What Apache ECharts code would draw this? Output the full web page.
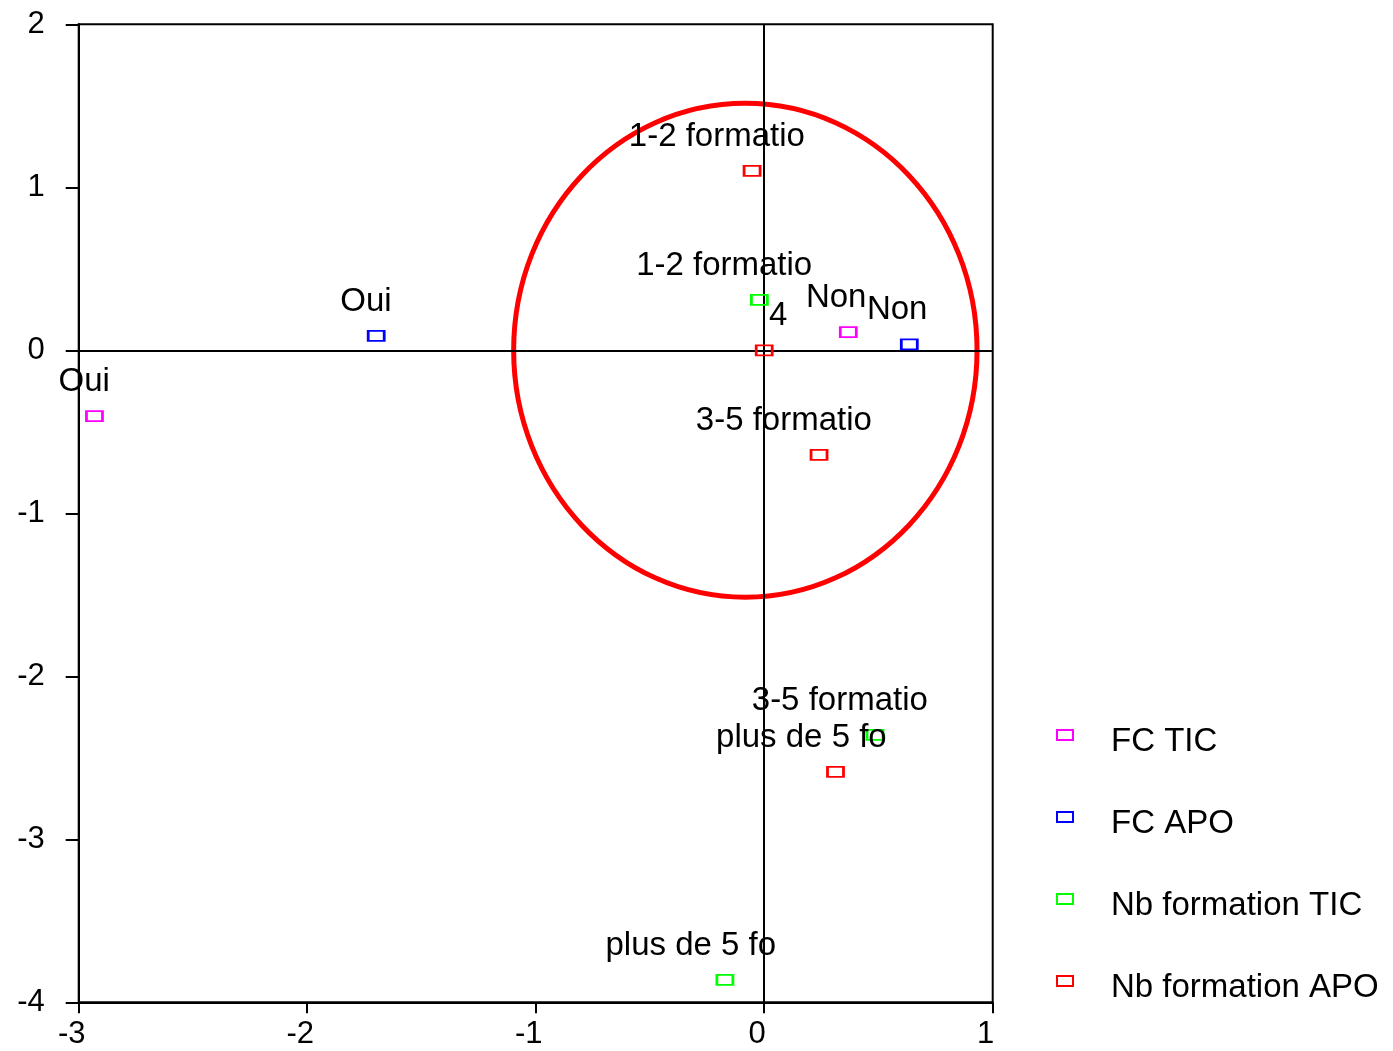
<!DOCTYPE html>
<html>
<head>
<meta charset="utf-8">
<script src="https://cdn.jsdelivr.net/npm/echarts@6/dist/echarts.min.js"></script>
<style>
html,body{margin:0;padding:0;background:#fff;}
#chart{width:1393px;height:1051px;}
</style>
</head>
<body>
<div id="chart"></div>
<script>
// ---- data ----
const fcTicNames = ['Oui', 'Non'];
const fcTicX = [-2.931, 0.368];
const fcTicY = [-0.404, 0.111];

const fcApoNames = ['Oui', 'Non'];
const fcApoX = [-1.698, 0.635];
const fcApoY = [0.089, 0.037];

const nbTicNames = ['1-2 formatio', '3-5 formatio', 'plus de 5 fo'];
const nbTicX = [-0.021, 0.485, -0.172];
const nbTicY = [0.309, -2.359, -3.863];

const nbApoNames = ['1-2 formatio', '4', '3-5 formatio', 'plus de 5 fo'];
const nbApoX = [-0.053, 0.0, 0.240, 0.312];
const nbApoY = [1.101, 0.0, -0.642, -2.586];

const seriesNames = ['FC TIC', 'FC APO', 'Nb formation TIC', 'Nb formation APO'];
const seriesColors = ['#ff00ff', '#0000ff', '#00ff00', '#ff0000'];

const ellipseCenter = [-0.0825, 0.0];
const ellipseRadii = [1.014, 1.515];

const xTicks = [-3, -2, -1, 0, 1];
const yTicks = [-4, -3, -2, -1, 0, 1, 2];

// ---- build ----
const FONT = '"Liberation Sans", Arial, Helvetica, sans-serif';
function pts(names, xs, ys) {
  return names.map((n, i) => ({ name: n, value: [xs[i], ys[i]] }));
}
const groups = [
  pts(fcTicNames, fcTicX, fcTicY),
  pts(fcApoNames, fcApoX, fcApoY),
  pts(nbTicNames, nbTicX, nbTicY),
  pts(nbApoNames, nbApoX, nbApoY)
];

function labelLayout(params) {
  const r = params.rect;
  const lw = params.labelRect.width;
  const cx = r.x + r.width / 2;
  const cy = r.y + r.height / 2;
  const shortLabel = params.text && params.text.length === 1;
  return {
    x: shortLabel ? cx + 14 : cx - 0.2 * lw,
    y: cy - 34,
    align: 'center',
    verticalAlign: 'middle'
  };
}

const scatterSeries = groups.map((data, i) => ({
  name: seriesNames[i],
  type: 'scatter',
  symbol: 'rect',
  symbolSize: [16, 10],
  z: 5,
  itemStyle: { color: 'rgba(0,0,0,0)', borderColor: seriesColors[i], borderWidth: 2.2, opacity: 1 },
  label: {
    show: true,
    formatter: '{b}',
    color: '#000',
    fontSize: 33,
    fontFamily: FONT
  },
  labelLayout: labelLayout,
  emphasis: { disabled: true },
  data: data
}));

// legend icon: hollow rectangle sitting slightly above the text centre
const legendIcon = 'path://M0 0L0 0M16 32L16 32M0 4.5H16V14.5H0Z';

const option = {
  backgroundColor: '#fff',
  animation: false,
  textStyle: { fontFamily: FONT },
  grid: {
    left: 78.7, right: 400.3, top: 24.3, bottom: 48.7,
    show: true, borderColor: '#000', borderWidth: 2, backgroundColor: 'transparent'
  },
  xAxis: {
    type: 'value', min: xTicks[0], max: xTicks[xTicks.length - 1], interval: 1,
    splitLine: { show: false },
    axisLine: { show: true, onZero: false, lineStyle: { color: '#000', width: 2 } },
    axisTick: { show: true, inside: false, length: 11, lineStyle: { color: '#000', width: 2 } },
    axisLabel: { color: '#000', fontSize: 31, fontFamily: FONT, margin: 17, padding: [0, 14, 0, 0] }
  },
  yAxis: {
    type: 'value', min: yTicks[0], max: yTicks[yTicks.length - 1], interval: 1,
    splitLine: { show: false },
    axisLine: { show: true, onZero: false, lineStyle: { color: '#000', width: 2 } },
    axisTick: { show: true, inside: false, length: 13, lineStyle: { color: '#000', width: 2 } },
    axisLabel: { color: '#000', fontSize: 31, fontFamily: FONT, margin: 34 }
  },
  legend: {
    orient: 'vertical',
    left: 1056, top: 721.5,
    padding: 0,
    itemGap: 42,
    itemWidth: 16, itemHeight: 32,
    icon: legendIcon,
    data: seriesNames,
    textStyle: { color: '#000', fontSize: 33, fontFamily: FONT, lineHeight: 40, padding: [0, 0, 0, 33] },
    selectedMode: false
  },
  series: [
    {
      type: 'line',
      data: [],
      z: 1,
      silent: true,
      markLine: {
        silent: true,
        symbol: ['none', 'none'],
        label: { show: false },
        lineStyle: { color: '#000', width: 2, type: 'solid' },
        animation: false,
        data: [{ xAxis: 0 }, { yAxis: 0 }]
      }
    },
    {
      type: 'custom',
      z: 3,
      silent: true,
      data: [[ellipseCenter[0], ellipseCenter[1], ellipseRadii[0], ellipseRadii[1]]],
      renderItem: function (params, api) {
        const c = api.coord([api.value(0), api.value(1)]);
        const rx = api.size([api.value(2), 0])[0];
        const ry = api.size([0, api.value(3)])[1];
        return {
          type: 'ellipse',
          shape: { cx: c[0], cy: c[1], rx: rx, ry: ry },
          style: { fill: 'none', stroke: '#ff0000', lineWidth: 5 }
        };
      }
    }
  ].concat(scatterSeries)
};

const chart = echarts.init(document.getElementById('chart'), null, { renderer: 'canvas' });
chart.setOption(option);
</script>
</body>
</html>
